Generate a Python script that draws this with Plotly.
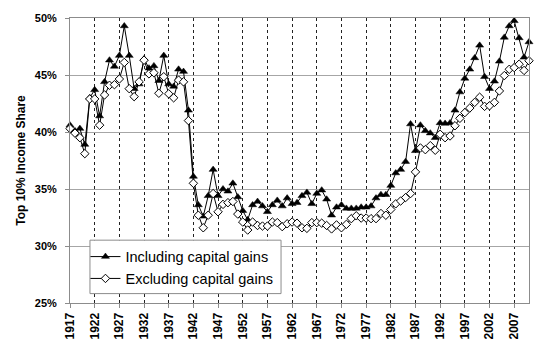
import plotly.graph_objects as go

years = list(range(1917, 2011))

incl_cg = [
    40.6, 40.1, 40.3, 38.9, 43.0, 43.7, 41.4, 44.4, 46.3, 45.75,   # 1917-1926
    46.7, 49.3, 46.7, 43.8, 44.2, 46.4, 45.6, 45.8, 44.5, 46.7,    # 1927-1936
    44.2, 44.0, 45.5, 45.3, 41.9, 36.1, 33.6, 32.6, 34.4, 36.7,    # 1937-1946
    34.4, 35.0, 34.8, 35.5, 34.3, 33.1, 32.3, 33.6, 33.9, 33.5,    # 1947-1956
    33.0, 33.6, 34.0, 33.5, 34.2, 33.7, 33.8, 34.4, 34.7, 33.7,    # 1957-1966
    34.6, 34.9, 34.1, 32.7, 33.4, 33.6, 33.3, 33.3, 33.3, 33.4,    # 1967-1976
    33.4, 33.5, 34.2, 34.5, 34.5, 35.3, 36.4, 36.7, 37.4, 40.7,    # 1977-1986
    38.35, 40.6, 40.1, 39.9, 39.5, 40.8, 40.75, 40.8, 41.9, 43.5,  # 1987-1996
    44.7, 45.5, 46.5, 47.6, 44.85, 43.8, 44.45, 46.2, 48.3, 49.3,  # 1997-2006
    49.75, 48.25, 46.55, 47.9                                      # 2007-2010
]

excl_cg = [
    40.3, 39.9, 39.5, 38.1, 42.9, 42.9, 40.6, 43.25, 44.1, 44.15,  # 1917-1926
    44.65, 46.1, 43.8, 43.1, 44.4, 46.3, 45.1, 45.2, 43.4, 44.85,  # 1927-1936
    43.35, 43.0, 44.55, 44.4, 41.0, 35.5, 32.7, 31.6, 32.7, 34.6,  # 1937-1946
    33.0, 33.65, 33.8, 33.9, 32.8, 32.1, 31.4, 32.1, 31.8, 31.75,  # 1947-1956
    31.75, 32.1, 32.05, 31.7, 31.95, 32.1, 32.0, 31.6, 31.55, 32.05,  # 1957-1966
    32.05, 32.0, 31.8, 31.5, 31.85, 31.6, 31.9, 32.4, 32.65, 32.45,   # 1967-1976
    32.45, 32.4, 32.4, 32.85, 32.7, 33.2, 33.7, 33.95, 34.25, 34.6,   # 1977-1986
    36.5, 38.6, 38.45, 38.8, 38.4, 39.8, 39.5, 39.65, 40.55, 41.2,    # 1987-1996
    41.7, 42.1, 42.6, 43.05, 42.25, 42.3, 42.6, 43.6, 44.95, 45.5,    # 1997-2006
    45.65, 45.95, 45.4, 46.25                                         # 2007-2010
]

x_tick_years = list(range(1917, 2010, 5))
y_ticks = [25, 30, 35, 40, 45, 50]
y_tick_labels = ["25%", "30%", "35%", "40%", "45%", "50%"]

series_names = ["Including capital gains", "Excluding capital gains"]

FONT = "Arial, Liberation Sans, sans-serif"

fig = go.Figure()
fig.add_trace(go.Scatter(
    x=years, y=incl_cg, name=series_names[0],
    mode="lines+markers", cliponaxis=False,
    line=dict(color="black", width=1),
    marker=dict(symbol="triangle-up", size=7, color="black",
                line=dict(color="black", width=0.5)),
))
fig.add_trace(go.Scatter(
    x=years, y=excl_cg, name=series_names[1],
    mode="lines+markers", cliponaxis=False,
    line=dict(color="black", width=1),
    marker=dict(symbol="diamond", size=6.5, color="white",
                line=dict(color="black", width=1)),
))

# legend box
fig.add_shape(type="rect", xref="paper", yref="paper",
              x0=(89.5 - 69.5) / 460, x1=(281 - 69.5) / 460,
              y0=(303 - 293.5) / 288, y1=(303 - 239.5) / 288,
              fillcolor="white", line=dict(color="#8c8c8c", width=1),
              layer="above")

fig.update_layout(
    width=549, height=353,
    margin=dict(l=69.5, r=19.5, t=15, b=50),
    paper_bgcolor="white", plot_bgcolor="white",
    font=dict(family=FONT, color="black"),
    showlegend=True,
    legend=dict(
        x=(85 - 69.5) / 460, y=(303 - 240) / 288,
        xanchor="left", yanchor="top",
        bgcolor="rgba(0,0,0,0)", borderwidth=0,
        font=dict(size=14.5, family=FONT, color="black"),
        tracegroupgap=0, itemwidth=30,
    ),
    xaxis=dict(
        range=[1917, 2010],
        tickmode="array", tickvals=x_tick_years,
        ticktext=[str(y) for y in x_tick_years],
        tickangle=-90,
        tickfont=dict(size=12, family=FONT, weight="bold"),
        showgrid=True, gridcolor="#222222", griddash="dot", gridwidth=1,
        showline=True, linecolor="#8c8c8c", linewidth=1, mirror=True,
        ticks="outside", ticklen=4, tickcolor="#8c8c8c",
        zeroline=False,
    ),
    yaxis=dict(
        range=[25, 50],
        tickmode="array", tickvals=y_ticks, ticktext=y_tick_labels,
        tickfont=dict(size=11, family=FONT, weight="bold"),
        showgrid=True, gridcolor="#a6a6a6", gridwidth=1,
        showline=True, linecolor="#8c8c8c", linewidth=1, mirror=True,
        ticks="outside", ticklen=4, tickcolor="#8c8c8c",
        ticklabelstandoff=6,
        title=dict(text="Top 10% Income Share",
                   font=dict(size=12, family=FONT, weight="bold"),
                   standoff=6),
        zeroline=False,
    ),
)

fig.write_html("out.html")
